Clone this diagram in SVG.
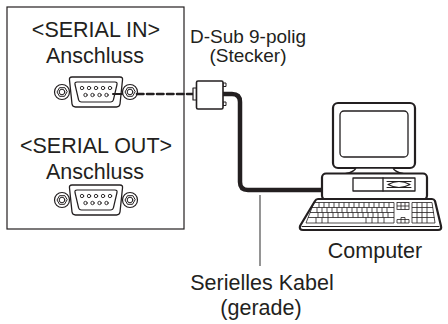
<svg xmlns="http://www.w3.org/2000/svg" width="448" height="324" viewBox="0 0 448 324">
  <style>
    .lbl { font-family: "Liberation Sans", Arial, sans-serif; font-size: 21.5px; fill: #231f20; text-anchor: middle; }
    .sm { font-size: 19px; }
    .ln { fill: none; stroke: #231f20; stroke-linejoin: round; stroke-linecap: round; }
    .wh { fill: #fff; stroke: #231f20; stroke-linejoin: round; }
    .key { fill: none; stroke: #231f20; stroke-width: 0.8; }
  </style>
  <defs>
    <!-- hex nut beside the D-Sub shell -->
    <g id="nut">
      <circle r="7.5" class="wh" stroke-width="1.2"/>
      <polygon points="5,0 2.5,4.3 -2.5,4.3 -5,0 -2.5,-4.3 2.5,-4.3" class="ln" stroke-width="1"/>
      <circle r="2.8" class="ln" stroke-width="1"/>
    </g>
    <!-- 9-pin female D-Sub socket -->
    <g id="dsub">
      <use href="#nut" x="-34"/>
      <use href="#nut" x="34"/>
      <path d="M -24 -15 H 24 Q 27 -15 26.5 -12 L 24 12 Q 23.5 15 20.5 15 H -20.5 Q -23.5 15 -24 12 L -26.5 -12 Q -27 -15 -24 -15 Z" class="wh" stroke-width="1.3"/>
      <path d="M -19 -10 H 19 Q 21.5 -10 21 -7.5 L 17.5 7.5 Q 17 10 14.5 10 H -14.5 Q -17 10 -17.5 7.5 L -21 -7.5 Q -21.5 -10 -19 -10 Z" class="ln" stroke-width="1.2"/>
      <g class="ln" stroke-width="0.9">
        <circle cx="-14" cy="-4" r="1.7"/><circle cx="-7" cy="-4" r="1.7"/><circle cx="0" cy="-4" r="1.7"/><circle cx="7" cy="-4" r="1.7"/><circle cx="14" cy="-4" r="1.7"/>
        <circle cx="-10.5" cy="3" r="1.7"/><circle cx="-3.5" cy="3" r="1.7"/><circle cx="3.5" cy="3" r="1.7"/><circle cx="10.5" cy="3" r="1.7"/>
      </g>
    </g>
  </defs>

  <!-- projector panel with the two serial ports -->
  <g id="panel">
    <rect x="7" y="7" width="177" height="222" fill="#fff" stroke="#231f20" stroke-width="1.2"/>
    <text class="lbl" x="96" y="37">&lt;SERIAL IN&gt;</text>
    <text class="lbl" x="95" y="63">Anschluss</text>
    <text class="lbl" x="96" y="153">&lt;SERIAL OUT&gt;</text>
    <text class="lbl" x="95" y="179">Anschluss</text>
  </g>

  <g id="serial-in">
    <use href="#dsub" x="96" y="92"/>
  </g>
  <g id="serial-out">
    <use href="#dsub" x="96" y="200"/>
  </g>

  <!-- connectors -->
  <g id="connectors">
    <line x1="113" y1="94" x2="122" y2="94" class="ln" stroke-width="2"/>
    <line x1="137" y1="94" x2="193" y2="94" class="ln" stroke-width="2.6" stroke-dasharray="6.5 3.5" stroke-linecap="butt"/>
    <path d="M 223 94 H 232 Q 240 94 240 102 V 182 Q 240 190 248 190 H 322" class="ln" stroke-width="4.5"/>
    <line x1="260" y1="195" x2="260" y2="266" stroke="#4d4d4d" stroke-width="1.2"/>
  </g>

  <!-- male D-Sub plug at cable end -->
  <g id="plug">
    <text class="lbl sm" x="248" y="43">D-Sub 9-polig</text>
    <text class="lbl sm" x="248" y="62">(Stecker)</text>
    <rect x="193" y="88" width="3.5" height="12" class="wh" stroke-width="1.2"/>
    <rect x="223" y="83" width="3" height="3.5" class="wh" stroke-width="1"/>
    <rect x="223" y="102" width="3" height="3.5" class="wh" stroke-width="1"/>
    <rect x="196.5" y="81" width="26.5" height="28" rx="1.5" class="wh" stroke-width="1.6"/>
  </g>

  <!-- cable label -->
  <g id="cable-label">
    <text class="lbl" x="262" y="290">Serielles Kabel</text>
    <text class="lbl" x="261" y="315">(gerade)</text>
  </g>

  <!-- personal computer -->
  <g id="computer">
    <rect x="333" y="103" width="82" height="65" rx="5" class="wh" stroke-width="2.2"/>
    <rect x="340" y="111" width="68" height="46" rx="4" class="ln" stroke-width="1.3"/>
    <path d="M 356 168 Q 354 172 346 173.5 H 403 Q 395 172 393 168 Z" class="wh" stroke-width="1.6"/>
    <rect x="322" y="173.5" width="105" height="26" rx="4" class="wh" stroke-width="2.2"/>
    <rect x="353" y="178" width="62" height="13" class="ln" stroke-width="1.3"/>
    <line x1="383" y1="178" x2="383" y2="191" class="ln" stroke-width="1.3"/>
    <path d="M 388 184.5 Q 399 178.5 410 184.5 Q 399 190.5 388 184.5 Z" class="ln" stroke-width="1.1"/>
    <line x1="387" y1="181.5" x2="411" y2="181.5" class="ln" stroke-width="1"/>
    <line x1="387" y1="187.5" x2="411" y2="187.5" class="ln" stroke-width="1"/>
    <!-- keyboard -->
    <path d="M 318 199 H 432 Q 434 199 435 201 L 441 226 Q 442 230 438 230 H 303 Q 299 230 300 226 L 315 201 Q 316 199 318 199 Z" class="wh" stroke-width="2.2"/>
    <line x1="302" y1="226.5" x2="439" y2="226.5" class="ln" stroke-width="1"/>
    <g class="key">
      <!-- main block -->
      <path d="M 314 202.5 H 394 V 223 H 306 Z"/>
      <line x1="312" y1="207.5" x2="394" y2="207.5"/>
      <line x1="310" y1="212.5" x2="394" y2="212.5"/>
      <line x1="308" y1="217.5" x2="394" y2="217.5"/>
      <path d="M 319 202.5 V 207.5 M 324 202.5 V 207.5 M 329 202.5 V 207.5 M 334 202.5 V 207.5 M 339 202.5 V 207.5 M 344 202.5 V 207.5 M 349 202.5 V 207.5 M 354 202.5 V 207.5 M 359 202.5 V 207.5 M 364 202.5 V 207.5 M 369 202.5 V 207.5 M 374 202.5 V 207.5 M 379 202.5 V 207.5 M 384 202.5 V 207.5 M 389 202.5 V 207.5"/>
      <path d="M 317 207.5 V 212.5 M 322 207.5 V 212.5 M 327 207.5 V 212.5 M 332 207.5 V 212.5 M 337 207.5 V 212.5 M 342 207.5 V 212.5 M 347 207.5 V 212.5 M 352 207.5 V 212.5 M 357 207.5 V 212.5 M 362 207.5 V 212.5 M 367 207.5 V 212.5 M 372 207.5 V 212.5 M 377 207.5 V 212.5 M 382 207.5 V 212.5 M 387 207.5 V 212.5"/>
      <path d="M 318 212.5 V 217.5 M 323 212.5 V 217.5 M 328 212.5 V 217.5 M 333 212.5 V 217.5 M 338 212.5 V 217.5 M 343 212.5 V 217.5 M 348 212.5 V 217.5 M 353 212.5 V 217.5 M 358 212.5 V 217.5 M 363 212.5 V 217.5 M 368 212.5 V 217.5 M 373 212.5 V 217.5 M 378 212.5 V 217.5 M 383 212.5 V 217.5 M 388 212.5 V 217.5"/>
      <path d="M 316 217.5 V 223 M 322 217.5 V 223 M 328 217.5 V 223 M 366 217.5 V 223 M 372 217.5 V 223 M 378 217.5 V 223 M 384 217.5 V 223"/>
      <!-- cursor keys -->
      <rect x="397" y="202.5" width="12" height="7"/>
      <path d="M 401 202.5 V 209.5 M 405 202.5 V 209.5 M 397 206 H 409"/>
      <path d="M 401 217.5 H 405 V 219.5 H 409 V 223 H 397 V 219.5 H 401 Z M 401 219.5 H 405 M 401 219.5 V 223 M 405 219.5 V 223"/>
      <!-- numeric pad -->
      <path d="M 412 202.5 H 432 L 435 223 H 412 Z"/>
      <path d="M 412 207.5 H 433 M 412 212.5 H 434 M 412 217.5 H 434.5 M 417 202.5 V 223 M 422 202.5 V 223 M 427 202.5 V 223"/>
    </g>
    <text class="lbl" x="375" y="258">Computer</text>
  </g>
</svg>
